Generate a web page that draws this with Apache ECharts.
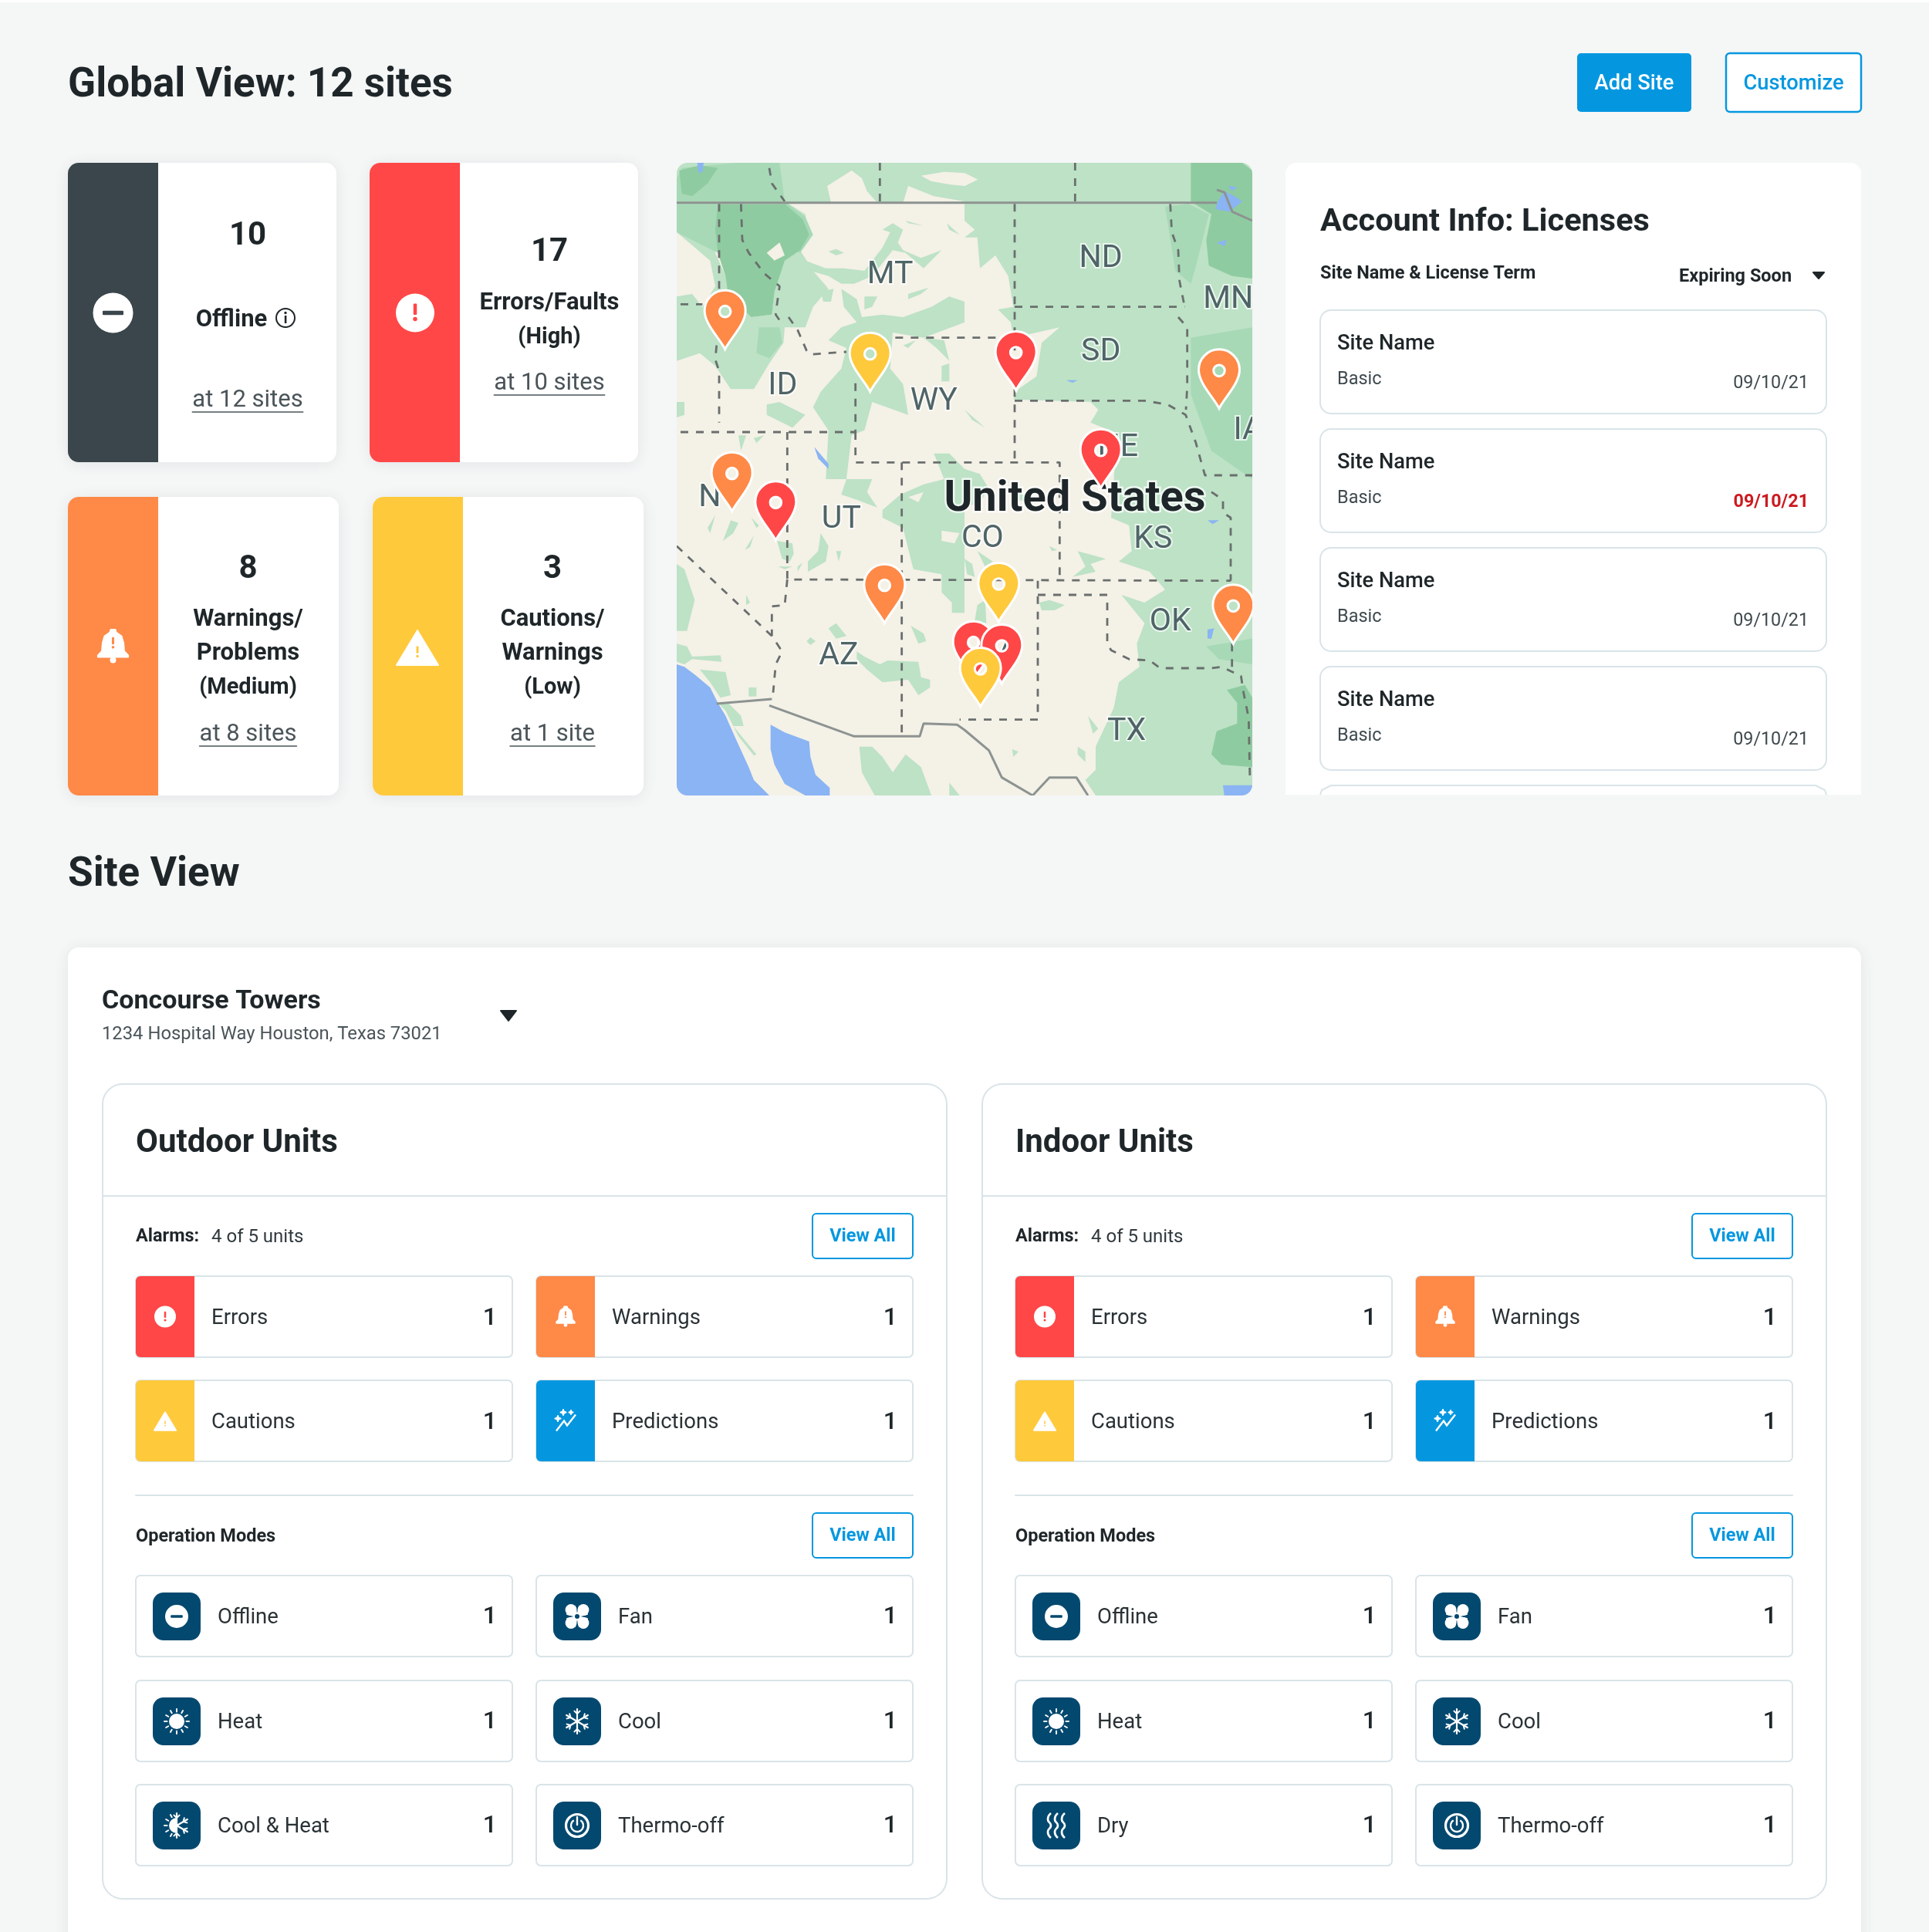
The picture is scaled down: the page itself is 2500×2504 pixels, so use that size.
<!DOCTYPE html>
<html>
<head>
<meta charset="utf-8">
<title>Global View</title>
<script src="https://cdn.jsdelivr.net/npm/echarts@6/dist/echarts.min.js"></script>
<style>
  html, body { margin: 0; padding: 0; background: #F5F6F6; }
  #main { width: 2500px; height: 2504px; }
</style>
</head>
<body>
<div id="main"></div>
<script>
// ---- page content ----
const kpiValues = [10, 17, 8, 3];
const kpiLabels = [['Offline'], ['Errors/Faults', '(High)'], ['Warnings/', 'Problems', '(Medium)'], ['Cautions/', 'Warnings', '(Low)']];
const kpiSites = ['at 12 sites', 'at 10 sites', 'at 8 sites', 'at 1 site'];

const licenseNames = ['Site Name', 'Site Name', 'Site Name', 'Site Name'];
const licenseTerms = ['Basic', 'Basic', 'Basic', 'Basic'];
const licenseDates = ['09/10/21', '09/10/21', '09/10/21', '09/10/21'];
const licenseExpiring = [false, true, false, false];

const alarmLabels = ['Errors', 'Warnings', 'Cautions', 'Predictions'];
const alarmCounts = [1, 1, 1, 1];
const outdoorModes = ['Offline', 'Fan', 'Heat', 'Cool', 'Cool & Heat', 'Thermo-off'];
const indoorModes = ['Offline', 'Fan', 'Heat', 'Cool', 'Dry', 'Thermo-off'];
const modeCounts = [1, 1, 1, 1, 1, 1];

// ---- map, in map units (3 units to a screen pixel) ----
const pinX = [188, 752, 1319, 2109, 1649, 215, 385, 808, 1252, 2164, 1154, 1264, 1181];
const pinY = [725, 890, 885, 955, 1265, 1355, 1468, 1790, 1785, 1870, 2012, 2025, 2115];
const pinLevel = ['warning', 'caution', 'error', 'warning', 'error', 'warning', 'error', 'warning', 'caution', 'warning', 'error', 'error', 'caution'];

const stateNames = ['MT', 'ID', 'WY', 'ND', 'SD', 'MN', 'IA', 'NE', 'NV', 'UT', 'CO', 'KS', 'OK', 'AZ', 'NM', 'TX'];
const stateX = [830, 412, 1000, 1649, 1649, 2144, 2222, 1715, 168, 640, 1189, 1852, 1919, 630, 1205, 1749];
const stateY = [425, 855, 915, 360, 725, 520, 1030, 1095, 1292, 1375, 1450, 1452, 1775, 1905, 1905, 2200];

const landLight = [
  [[0,0],[2238,0],[2238,155],[0,155]],
  [[0,160],[160,160],[150,350],[190,440],[290,600],[370,590],[420,640],[415,700],[360,780],[300,880],[210,880],[150,790],[90,740],[0,770],[0,520],[60,510],[100,560],[150,480],[130,380],[60,320],[0,270]],
  [[420,150],[500,200],[515,280],[480,340],[530,420],[590,490],[530,560],[500,640],[420,640],[370,590],[390,380]],
  [[640,490],[700,530],[720,600],[800,590],[880,600],[990,560],[1060,520],[1119,540],[1119,620],[1040,650],[960,680],[840,660],[830,800],[880,860],[900,980],[760,930],[730,1040],[680,1060],[660,1230],[580,1230],[590,1040],[530,950],[560,890],[640,800],[660,720],[590,690],[640,640],[700,620],[650,560]],
  [[500,380],[580,410],[650,410],[730,420],[800,330],[830,270],[800,260],[840,235],[880,260],[860,310],[880,340],[950,370],[1030,340],[960,410],[890,350],[840,340],[760,440],[690,470],[640,470],[590,440],[520,420]],
  [[590,345],[620,335],[650,350],[620,360]], [[730,520],[780,520],[760,560],[730,570]], [[900,510],[980,485],[950,510],[900,530]],
  [[560,500],[610,490],[600,540],[570,540]], [[890,225],[960,245],[900,235]], [[1050,235],[1100,280],[1060,260]],
  [[880,710],[930,690],[900,720]], [[960,680],[1040,690],[1060,770],[1010,720]], [[1030,790],[1060,780],[1060,850],[1030,850]],
  [[350,940],[400,930],[500,980],[450,1030],[350,980]], [[0,930],[30,930],[30,980],[0,990]],
  [[240,1060],[270,1060],[250,1120]], [[300,1070],[340,1060],[310,1090]],
  [[1000,1130],[1060,1130],[1119,1190],[1119,1230],[1040,1230]],
  // the eastern plains, in one outline
  [[1119,160],[2238,160],[2238,2460],[1629,2460],[1589,2400],[1629,2360],[1629,2270],[1699,2120],[1719,2020],[1799,1960],[1789,1870],[1819,1790],[1729,1680],[1819,1710],[1899,1660],[1839,1590],[1719,1550],[1769,1510],[1759,1410],[1689,1380],[1700,1230],[1709,1050],[1609,1010],[1639,960],[1609,930],[1309,920],[1329,880],[1399,830],[1419,700],[1489,640],[1399,660],[1309,680],[1299,620],[1249,570],[1309,560],[1289,440],[1239,360],[1179,410],[1169,290],[1119,290],[1159,260],[1119,225]],
  [[1559,1510],[1669,1540],[1609,1560],[1629,1590],[1539,1610],[1589,1570]], [[1449,1490],[1479,1505],[1459,1510]],
  [[1409,1710],[1449,1700],[1509,1720],[1469,1740],[1419,1740]], [[1599,2150],[1639,2200],[1619,2220]], [[1559,2270],[1589,2290],[1589,2330],[1559,2300]],
  [[1304,2280],[1329,2290],[1309,2310]], [[1119,1540],[1149,1560],[1159,1610],[1129,1600]], [[1169,1720],[1199,1700],[1204,1790],[1159,1780]], [[1169,1510],[1229,1550],[1199,1570]],
  [[1119,1190],[1179,1210],[1209,1260],[1179,1330],[1119,1330]], [[1309,1270],[1409,1320],[1309,1310]], [[1119,960],[1199,1030],[1149,1000]],
  // Utah, Colorado, Nevada
  [[660,1230],[760,1230],[740,1280],[780,1340],[700,1310],[640,1290]],
  [[800,1350],[870,1290],[960,1250],[1040,1230],[1119,1230],[1119,1750],[1070,1750],[1070,1710],[1030,1670],[1030,1600],[920,1580],[880,1420],[800,1380]],
  [[560,1440],[590,1490],[580,1550],[510,1590],[510,1550],[550,1510]], [[620,1510],[640,1510],[630,1550]],
  [[120,1420],[150,1370],[130,1440]], [[180,1470],[210,1390],[240,1400],[220,1440]], [[265,1505],[300,1450],[285,1495]], [[290,1380],[320,1410],[310,1420]],
  [[390,1470],[450,1480],[455,1520],[440,1550],[410,1540]], [[395,1570],[450,1570],[420,1580]], [[470,1570],[490,1555],[470,1590]],
  [[0,1560],[30,1580],[70,1700],[50,1780],[40,1820],[0,1820]], [[270,1680],[285,1710],[270,1720]], [[910,1800],[960,1830],[970,1860],[940,1870]],
  [[590,1810],[620,1790],[660,1840],[620,1850]], [[505,1860],[520,1845],[540,1860],[520,1875]],
  [[700,1900],[730,1920],[790,1950],[820,1935],[940,1940],[950,2000],[985,2010],[985,2040],[940,2070],[900,2010],[800,2020],[740,1970],[700,1930]],
  [[0,1870],[40,1880],[60,1920],[170,1915],[175,1940],[60,1930],[30,1950],[0,1940]],
  [[90,1970],[190,1980],[210,2070],[170,2080],[130,2020]], [[280,2040],[310,2040],[310,2075],[280,2075]],
  [[160,2100],[200,2100],[250,2150],[260,2190],[220,2190],[310,2300],[300,2305],[240,2230],[190,2130]],
  [[710,2270],[760,2270],[800,2310],[840,2370],[890,2300],[950,2350],[990,2460],[770,2460],[720,2370]], [[1060,2410],[1100,2460],[1060,2460]]
];
const landMid = [
  [[0,60],[20,20],[230,0],[400,0],[420,150],[0,150]],
  [[0,160],[160,160],[160,350],[60,300],[0,270]],
  [[1899,170],[1989,160],[2069,200],[2019,400],[1999,470],[1939,420]],
  [[1999,680],[2238,640],[2238,1230],[2079,1120],[1999,900]],
  [[2059,1880],[2238,1850],[2238,1950],[2109,1930]],
  [[420,150],[500,210],[530,280],[480,350],[420,320]],
  [[320,640],[400,640],[410,700],[360,760],[310,740]]
];
const landDark = [
  [[160,160],[420,160],[490,220],[515,280],[480,340],[420,380],[410,410],[380,500],[370,590],[290,600],[200,510],[190,440],[160,350],[150,260]],
  [[10,30],[90,10],[160,20],[120,80],[60,130],[20,120]],
  [[1999,0],[2199,0],[2238,30],[2238,450],[2159,440],[2069,400],[2059,300],[2079,200],[1999,150]],
  [[2139,2050],[2209,2030],[2238,2080],[2238,2350],[2119,2340],[2079,2300],[2099,2210],[2179,2180],[2179,2100]]
];
const mapWater = [
  [[0,1950],[30,1960],[70,1990],[130,2040],[160,2100],[190,2150],[230,2240],[280,2350],[300,2400],[360,2460],[0,2460]],
  [[365,2185],[420,2215],[515,2250],[520,2310],[540,2380],[595,2430],[595,2460],[500,2460],[420,2415],[380,2340],[365,2280]],
  [[535,1105],[590,1170],[590,1190],[550,1150]], [[80,0],[105,0],[100,35],[85,40]],
  [[2104,150],[2129,110],[2169,130],[2199,150],[2149,190],[2094,180]], [[2144,90],[2179,95],[2159,110]], [[2099,310],[2139,300],[2129,325]],
  [[1514,845],[1559,845],[1539,855]], [[2064,1390],[2109,1390],[2084,1405]], [[2064,1815],[2089,1810],[2079,1850],[2064,1850]],
  [[2124,2420],[2238,2420],[2238,2460],[2129,2460]]
];
// land left pale where the greens would otherwise close up
const mapPale = [
  [[585,90],[680,30],[720,60],[740,110],[780,155],[600,155]],
  [[900,90],[1000,130],[1119,150],[880,155]], [[950,50],[1040,35],[1119,40],[1170,65],[1119,90],[1065,85],[990,72]],
  [[350,350],[400,310],[420,360],[380,380]], [[1119,40],[1170,65],[1119,90]],
  [[1030,1430],[1100,1440],[1080,1480],[1030,1470]], [[900,1300],[960,1280],[940,1320]]
];
const borderDashed = [
  [[790,0],[790,150]], [[1549,0],[1549,150]], [[360,20],[370,80],[420,150]],
  [[165,160],[165,490]], [[15,550],[100,550]],
  [[250,160],[255,300],[280,350],[340,430],[400,480],[390,550],[385,590],[405,620]],
  [[435,600],[470,650],[505,730],[520,745],[660,735]],
  [[155,710],[150,765],[165,810],[165,1010]],
  [[15,1047],[695,1047],[695,850]], [[695,1047],[695,1165],[1489,1165],[1489,1625]],
  [[430,1047],[430,1620],[2154,1625]],
  [[850,680],[1250,680]], [[1314,160],[1314,1165]], [[1314,560],[1975,560]],
  [[1919,160],[1925,270],[1950,340],[1955,460],[1975,560]],
  [[1950,600],[1985,640],[1985,870],[1980,960]],
  [[1314,925],[1819,925],[1909,940],[1979,980],[2019,1090],[2044,1180],[2054,1215],[2238,1215]],
  [[2079,1280],[2124,1310],[2124,1360],[2154,1380],[2154,1625]],
  [[875,1165],[875,2230]], [[1404,1625],[1404,2165],[1100,2165]],
  [[1404,1680],[1674,1680],[1674,1870],[1689,1895],[1759,1930],[1839,1935],[1879,1965],[2079,1965],[2119,1960],[2194,1995],[2204,2060],[2224,2160],[2229,2410]],
  [[2159,1870],[2159,1960]],
  [[0,1490],[370,1840],[410,1900],[385,1950],[375,2060]], [[430,1620],[420,1720],[370,1725],[370,1840]]
];
const borderSolid = [
  [[0,155],[2100,155]], [[155,2103],[370,2085]],
  [[360,2110],[690,2230],[945,2230],[960,2180],[1090,2185],[1119,2205],[1214,2285],[1264,2390],[1384,2460]],
  [[1384,2460],[1449,2390],[1554,2390],[1599,2460]], [[2100,105],[2130,115],[2160,190],[2238,225]]
];

// ---- look ----
const FONT = 'Roboto, "Noto Sans", sans-serif';
const PAGE = '#F5F6F6', INK = '#1F2629', SOFT = '#4A5459', LINE = '#D9E4E8';
const BLUE = '#0497E0', TEAL = '#03486F', SLATE = '#3A464C';
const RED = '#FF4747', ORANGE = '#FF8947', YELLOW = '#FFC93C';
const LEVEL_COLOR = { error: RED, warning: ORANGE, caution: YELLOW };
const SHADOW = { shadowBlur: 18, shadowColor: 'rgba(70,90,100,0.10)', shadowOffsetY: 2 };

const measure = document.createElement('canvas').getContext('2d');
function textWidth(s, size, weight) {
  measure.font = (weight || 400) + ' ' + size + 'px Roboto';
  return measure.measureText(s).width;
}
function txt(s, x, y, size, opt) {
  opt = opt || {};
  // y is the middle of the capitals, not of the line box
  return { type: 'text', x: x, y: y + size * 0.11, silent: true, z: opt.z || 5, style: {
    text: String(s), x: 0, y: 0, fontFamily: FONT, fontSize: size, fontWeight: opt.weight || 400,
    fill: opt.color || INK, align: opt.align || 'left', verticalAlign: 'middle'
  } };
}
function box(x, y, w, h, r, fill, opt) {
  opt = opt || {};
  const style = { fill: fill, stroke: opt.stroke || null, lineWidth: opt.lineWidth || 0 };
  if (opt.shadow) Object.assign(style, SHADOW);
  return { type: 'rect', silent: true, z: opt.z || 1, shape: { x: x, y: y, width: w, height: h, r: r }, style: style };
}
const circ = (x, y, r, fill, stroke, lw) => ({ type: 'circle', silent: true, z: 6, shape: { cx: x, cy: y, r: r }, style: { fill: fill || null, stroke: stroke || null, lineWidth: lw || 0 } });
const seg = (x1, y1, x2, y2, lw, color) => ({ type: 'line', silent: true, z: 6, shape: { x1: x1, y1: y1, x2: x2, y2: y2 }, style: { stroke: color || '#fff', lineWidth: lw, lineCap: 'round' } });
const poly = (pts, fill) => ({ type: 'polygon', silent: true, z: 6, shape: { points: pts }, style: { fill: fill, stroke: fill, lineWidth: 2, lineJoin: 'round' } });

// ---- icons, all white on their coloured tile ----
function iconMinus(x, y, r, bg) {
  return [circ(x, y, r, '#fff'), { type: 'rect', silent: true, z: 6, shape: { x: x - r * 0.52, y: y - r * 0.11, width: r * 1.04, height: r * 0.22, r: 1 }, style: { fill: bg } }];
}
function bang(x, y, s, bg) {
  return [{ type: 'rect', silent: true, z: 7, shape: { x: x - s * 0.09, y: y - s * 0.48, width: s * 0.18, height: s * 0.58, r: 1 }, style: { fill: bg } }, { type: 'circle', silent: true, z: 7, shape: { cx: x, cy: y + s * 0.32, r: s * 0.11 }, style: { fill: bg } }];
}
function iconError(x, y, r, bg) {
  return [circ(x, y, r, '#fff')].concat(bang(x, y, r, bg));
}
function iconBell(x, y, s, bg) {
  const shape = [[-0.15,-0.95],[0.15,-0.95],[0.2,-0.78],[0.55,-0.55],[0.68,-0.12],[0.72,0.38],[0.98,0.64],[0.98,0.74],[-0.98,0.74],[-0.98,0.64],[-0.72,0.38],[-0.68,-0.12],[-0.55,-0.55],[-0.2,-0.78]];
  const pts = shape.map(p => [x + p[0] * s, y + p[1] * s * 1.05]);
  return [poly(pts, '#fff'), circ(x, y + s * 0.98, s * 0.2, '#fff')].concat(bang(x, y - s * 0.12, s * 0.82, bg));
}
function iconTriangle(x, y, s, bg) {
  return [poly([[x, y - s * 0.92], [x + s, y + s * 0.74], [x - s, y + s * 0.74]], '#fff')].concat(bang(x, y + s * 0.12, s * 0.6, bg));
}
function star(x, y, s) {
  return poly([[x, y - s], [x + s * 0.25, y - s * 0.25], [x + s, y], [x + s * 0.25, y + s * 0.25], [x, y + s], [x - s * 0.25, y + s * 0.25], [x - s, y], [x - s * 0.25, y - s * 0.25]], '#fff');
}
function iconPredict(x, y) {
  return [
    { type: 'polyline', silent: true, z: 6, shape: { points: [[x - 12, y + 13], [x - 2, y], [x + 2, y + 6], [x + 13, y - 8]] }, style: { stroke: '#fff', fill: null, lineWidth: 2.4 } },
    star(x - 10, y - 3, 3.5), star(x - 3, y - 11, 3.5), star(x + 7, y - 11, 2.5)
  ];
}
function iconFan(x, y) {
  // four blades, each narrower towards the hub
  const out = [];
  [[-1, -1], [1, -1], [1, 1], [-1, 1]].forEach(q => {
    out.push(circ(x + q[0] * 8, y + q[1] * 8.5, 7.4, '#fff'));
    out.push(poly([[x, y], [x + q[0] * 13, y + q[1] * 3], [x + q[0] * 3, y + q[1] * 13]], '#fff'));
  });
  out.push(circ(x, y, 3, TEAL));
  out[out.length - 1].z = 7;
  return out;
}
function rays(x, y, n, r0, r1, lw) {
  const out = [];
  for (let i = 0; i < n; i++) {
    const a = Math.PI * 2 * i / n;
    out.push(seg(x + Math.cos(a) * r0, y + Math.sin(a) * r0, x + Math.cos(a) * r1, y + Math.sin(a) * r1, lw));
  }
  return out;
}
function iconSun(x, y) {
  return [circ(x, y, 10, '#fff')].concat(rays(x, y, 12, 12.5, 16, 2));
}
function flakeArm(x, y, a, len) {
  const c = Math.cos(a), s = Math.sin(a), px = x + c * len * 0.62, py = y + s * len * 0.62, b = 5;
  return [
    seg(x, y, x + c * len, y + s * len, 2.2),
    seg(px, py, px + Math.cos(a + 0.8) * b, py + Math.sin(a + 0.8) * b, 2),
    seg(px, py, px + Math.cos(a - 0.8) * b, py + Math.sin(a - 0.8) * b, 2)
  ];
}
function iconCool(x, y) {
  let out = [];
  for (let i = 0; i < 6; i++) out = out.concat(flakeArm(x, y, Math.PI / 2 + i * Math.PI / 3, 16));
  return out;
}
function iconCoolHeat(x, y) {
  let out = [{ type: 'sector', silent: true, z: 6, shape: { cx: x, cy: y, r: 10, r0: 0, startAngle: Math.PI * 0.5, endAngle: Math.PI * 1.5, clockwise: true }, style: { fill: '#fff' } }];
  out = out.concat(rays(x, y, 12, 12.5, 16, 2).filter((_, i) => i > 3 && i < 9));
  [-Math.PI / 2, -Math.PI / 6, Math.PI / 6, Math.PI / 2].forEach(a => { out = out.concat(flakeArm(x, y, a, 16)); });
  return out;
}
function iconPower(x, y) {
  return [
    circ(x, y, 14.5, null, '#fff', 3.2),
    { type: 'arc', silent: true, z: 6, shape: { cx: x, cy: y, r: 8, startAngle: -Math.PI * 0.32, endAngle: -Math.PI * 0.68, clockwise: true }, style: { stroke: '#fff', lineWidth: 2.4, fill: null } },
    seg(x, y - 11, x, y - 1, 2.4)
  ];
}
function iconDry(x, y) {
  return [-9, 0, 9].map(dx => ({ type: 'polyline', silent: true, z: 6,
    shape: { smooth: 0.6, points: [[x + dx + 2, y - 16], [x + dx - 2, y - 8], [x + dx + 2, y], [x + dx - 2, y + 8], [x + dx + 2, y + 16]] },
    style: { stroke: '#fff', fill: null, lineWidth: 2.8 } }));
}
const MODE_ICON = {
  'Offline': (x, y) => iconMinus(x, y, 15, TEAL), 'Fan': iconFan, 'Heat': iconSun, 'Cool': iconCool,
  'Cool & Heat': iconCoolHeat, 'Dry': iconDry, 'Thermo-off': iconPower
};

// ---- top row ----
const graphics = [];
const add = items => { Array.isArray(items) ? graphics.push.apply(graphics, items) : graphics.push(items); };

add(box(0, 0, 2500, 3, 0, '#FFFFFF'));
add(txt('Global View: 12 sites', 88, 106, 53, { weight: 700 }));
add(box(2044, 69, 148, 76, 5, BLUE));
add(txt('Add Site', 2118, 106, 27.3, { weight: 500, color: '#fff', align: 'center' }));
add(box(2237, 69, 175, 76, 5, '#fff', { stroke: BLUE, lineWidth: 2.5 }));
add(txt('Customize', 2324.5, 106, 27.3, { weight: 500, color: BLUE, align: 'center' }));

const kpiLayout = [
  { x: 88, w: 348, y: 211, h: 388, cx: 321, num: 302, lines: [412], sites: 516, color: SLATE },
  { x: 479, w: 348, y: 211, h: 388, cx: 712, num: 323, lines: [390, 435], sites: 494, color: RED },
  { x: 88, w: 351, y: 644, h: 387, cx: 321.5, num: 734, lines: [800, 844, 889], sites: 949, color: ORANGE },
  { x: 483, w: 351, y: 644, h: 387, cx: 716, num: 734, lines: [800, 844, 889], sites: 949, color: YELLOW }
];
kpiLayout.forEach((k, i) => {
  add(box(k.x, k.y, k.w, k.h, 14, '#fff', { shadow: true }));
  add(box(k.x, k.y, 117, k.h, [14, 0, 0, 14], k.color, { z: 2 }));
  add(txt(kpiValues[i], k.cx, k.num, 42, { weight: 700, align: 'center' }));
  kpiLabels[i].forEach((line, j) => {
    const small = line.charAt(0) === '(';
    const lx = i === 0 ? k.cx - 21 : k.cx;
    add(txt(line, lx, k.lines[j], small ? 29 : 31, { weight: 700, align: 'center' }));
  });
  add(txt(kpiSites[i], k.cx, k.sites, 31, { color: SOFT, align: 'center' }));
  const half = textWidth(kpiSites[i], 31) / 2;
  add(seg(k.cx - half, k.sites + 18, k.cx + half, k.sites + 18, 1.6, SOFT));
});
add(iconMinus(146.5, 405.5, 26, SLATE));
add(iconError(538, 405.5, 25, RED));
add(iconBell(146.5, 836, 20, ORANGE));
add(iconTriangle(541, 842, 27, YELLOW));
add(circ(370, 412, 12, null, INK, 2));
add({ type: 'rect', silent: true, z: 6, shape: { x: 368.8, y: 409, width: 2.6, height: 10 }, style: { fill: INK } });
add(circ(370, 405.5, 1.7, INK));

// map base and a mask that rounds its corners
add(box(877, 211, 746, 820, 14, '#F4F1E7'));
add(box(873, 207, 754, 828, 18, null, { stroke: PAGE, lineWidth: 8, z: 100 }));

// licences
add(box(1666, 211, 746, 819, [14, 14, 0, 0], '#fff'));
add(txt('Account Info: Licenses', 1711, 284, 41.5, { weight: 700 }));
add(txt('Site Name & License Term', 1711, 353, 23.5, { weight: 700 }));
add(txt('Expiring Soon', 2176, 357, 23.5, { weight: 700 }));
add(poly([[2350, 353], [2364, 353], [2357, 361]], INK));
const licenseTop = [402, 556, 710, 864];
licenseNames.forEach((name, i) => {
  const y = licenseTop[i];
  add(box(1711, y, 656, 134, 14, '#fff', { stroke: LINE, lineWidth: 2, z: 2 }));
  add(txt(name, 1733, y + 41, 27.3, { weight: 500 }));
  add(txt(licenseTerms[i], 1733, y + 88, 23.5, { color: '#3F4A4F' }));
  add(txt(licenseDates[i], 2344, y + 93, 23.3, licenseExpiring[i] ? { align: 'right', weight: 700, color: '#CC1A1F' } : { align: 'right', color: '#3F4A4F' }));
});
// the next row is cut by the card edge
add({ type: 'polyline', silent: true, z: 2, shape: { points: [[1711, 1030], [1713, 1024], [1725, 1018], [2353, 1018], [2365, 1024], [2367, 1030]] }, style: { stroke: LINE, lineWidth: 2, fill: null } });

// ---- site view ----
add(txt('Site View', 88, 1129, 53, { weight: 700 }));
add(box(88, 1228, 2324, 1300, 14, '#fff', { shadow: true }));
add(txt('Concourse Towers', 132, 1295, 34, { weight: 700 }));
add(txt('1234 Hospital Way Houston, Texas 73021', 132, 1338, 23.8, { color: SOFT }));
add(poly([[649, 1310], [669, 1310], [659, 1323]], INK));

function viewAll(x, y) {
  add(box(x, y, 130, 58, 5, '#fff', { stroke: BLUE, lineWidth: 2, z: 2 }));
  add(txt('View All', x + 65, y + 28, 23.5, { weight: 700, color: BLUE, align: 'center' }));
}
function unitPanel(dx, title, modes) {
  add(box(133 + dx, 1405, 1094, 1056, 26, '#fff', { stroke: LINE, lineWidth: 2, z: 2 }));
  add(seg(133 + dx, 1550, 1227 + dx, 1550, 2, LINE));
  add(txt(title, 176 + dx, 1478, 42, { weight: 700 }));
  add(txt('Alarms:', 176 + dx, 1601, 23.5, { weight: 700 }));
  add(txt('4 of 5 units', 274 + dx, 1601, 24, { color: '#30393D' }));
  viewAll(1053 + dx, 1573);

  const rowsA = [1654, 1789], colsA = [176 + dx, 695 + dx];
  const alarmColor = [RED, ORANGE, YELLOW, BLUE];
  alarmLabels.forEach((label, i) => {
    const cx = colsA[i % 2], y = rowsA[i >> 1], mid = y + 52.5;
    add(box(cx, y, 488, 105, 6, '#fff', { stroke: LINE, lineWidth: 2, z: 2 }));
    add(box(cx, y, 76, 105, [6, 0, 0, 6], alarmColor[i], { z: 3 }));
    add(txt(label, cx + 98, mid, 27.5, { color: '#2A3236' }));
    add(txt(alarmCounts[i], cx + 468, mid - 1, 32, { weight: 500, align: 'right' }));
    const ix = cx + 38;
    if (i === 0) add(iconError(ix, mid, 14, RED));
    if (i === 1) add(iconBell(ix, mid - 1, 12, ORANGE));
    if (i === 2) add(iconTriangle(ix, mid + 2, 14, YELLOW));
    if (i === 3) add(iconPredict(ix, mid));
  });

  add(seg(176 + dx, 1938, 1183 + dx, 1938, 2, LINE));
  add(txt('Operation Modes', 176 + dx, 1990, 23.5, { weight: 700 }));
  viewAll(1053 + dx, 1961);

  const rowsM = [2042, 2178, 2313], colsM = [176 + dx, 695 + dx];
  modes.forEach((label, i) => {
    const cx = colsM[i % 2], y = rowsM[i >> 1], mid = y + 52.5;
    add(box(cx, y, 488, 105, 6, '#fff', { stroke: LINE, lineWidth: 2, z: 2 }));
    add(box(cx + 22, y + 22, 62, 62, 14, TEAL, { z: 3 }));
    add(txt(label, cx + 106, mid - 0.5, 27.5, { color: '#2A3236' }));
    add(txt(modeCounts[i], cx + 468, mid - 2, 32, { weight: 500, align: 'right' }));
    add(MODE_ICON[label](cx + 53, y + 53));
  });
}
unitPanel(0, 'Outdoor Units', outdoorModes);
unitPanel(1140, 'Indoor Units', indoorModes);

// ---- map series ----
function landSeries(list, color, z) {
  return {
    type: 'custom', coordinateSystem: 'cartesian2d', clip: true, silent: true, z: z,
    data: list.map((_, i) => [i, 0]),
    renderItem: function (params, api) {
      const pts = list[params.dataIndex].map(p => api.coord(p));
      return { type: 'polygon', shape: { points: pts }, style: { fill: color } };
    }
  };
}
function borderSeries(pts, solid) {
  return {
    type: 'line', data: pts, showSymbol: false, silent: true, z: 7,
    lineStyle: solid
      ? { color: '#8C9391', width: 3, type: 'solid' }
      : { color: '#6A6F6D', width: 2.8, type: [10, 10] }
  };
}
const labelSeries = {
  type: 'custom', coordinateSystem: 'cartesian2d', clip: true, silent: true, z: 8,
  data: stateNames.map((_, i) => [stateX[i], stateY[i]]),
  renderItem: function (params, api) {
    const p = api.coord([api.value(0), api.value(1)]);
    return { type: 'text', x: p[0], y: p[1] + 4.5, style: {
      text: stateNames[params.dataIndex], fontFamily: FONT, fontSize: 41, fill: '#4F6467',
      stroke: 'rgba(255,255,255,0.7)', lineWidth: 4, align: 'center', verticalAlign: 'middle'
    } };
  }
};
const nameSeries = {
  type: 'custom', coordinateSystem: 'cartesian2d', clip: true, silent: true, z: 8,
  data: [[1548, 1296]],
  renderItem: function (params, api) {
    const p = api.coord([api.value(0), api.value(1)]);
    return { type: 'text', x: p[0], y: p[1] + 5, style: {
      text: 'United States', fontFamily: FONT, fontSize: 56, fontWeight: 700, fill: INK,
      stroke: 'rgba(255,255,255,0.75)', lineWidth: 5, align: 'center', verticalAlign: 'middle'
    } };
  }
};
const PIN_PATH = 'M0,0 C-6,-13 -26.5,-32 -26.5,-50 A26.5,26.5 0 1 1 26.5,-50 C26.5,-32 6,-13 0,0 Z M7.3,-49 A7.3,7.3 0 1 0 -7.3,-49 A7.3,7.3 0 1 0 7.3,-49 Z';
const pinSeries = {
  type: 'custom', coordinateSystem: 'cartesian2d', clip: true, silent: true, z: 9,
  data: pinX.map((x, i) => [x, pinY[i]]),
  renderItem: function (params, api) {
    const p = api.coord([api.value(0), api.value(1)]);
    return { type: 'path', x: p[0], y: p[1],
      shape: { pathData: PIN_PATH, x: -26.5, y: -76.5, width: 53, height: 76.5, layout: 'cover' },
      style: { fill: LEVEL_COLOR[pinLevel[params.dataIndex]], stroke: '#fff', lineWidth: 3 } };
  }
};

const series = [
  landSeries(landLight, '#BDE2C6', 3),
  landSeries(landMid, '#A7D9B6', 4),
  landSeries(landDark, '#8FCBA0', 5),
  landSeries(mapPale, '#F4F1E7', 5),
  landSeries(mapWater, '#8AB4F3', 6)
].concat(
  borderDashed.map(b => borderSeries(b, false)),
  borderSolid.map(b => borderSeries(b, true)),
  [labelSeries, nameSeries, pinSeries]
);

const chart = echarts.init(document.getElementById('main'), null, { renderer: 'canvas' });
chart.setOption({
  animation: false,
  backgroundColor: PAGE,
  textStyle: { fontFamily: FONT },
  grid: { left: 877, top: 211, width: 746, height: 820, containLabel: false },
  xAxis: { type: 'value', min: 0, max: 2238, show: false },
  yAxis: { type: 'value', min: 0, max: 2460, inverse: true, show: false },
  graphic: { elements: graphics },
  series: series
});
</script>
</body>
</html>
